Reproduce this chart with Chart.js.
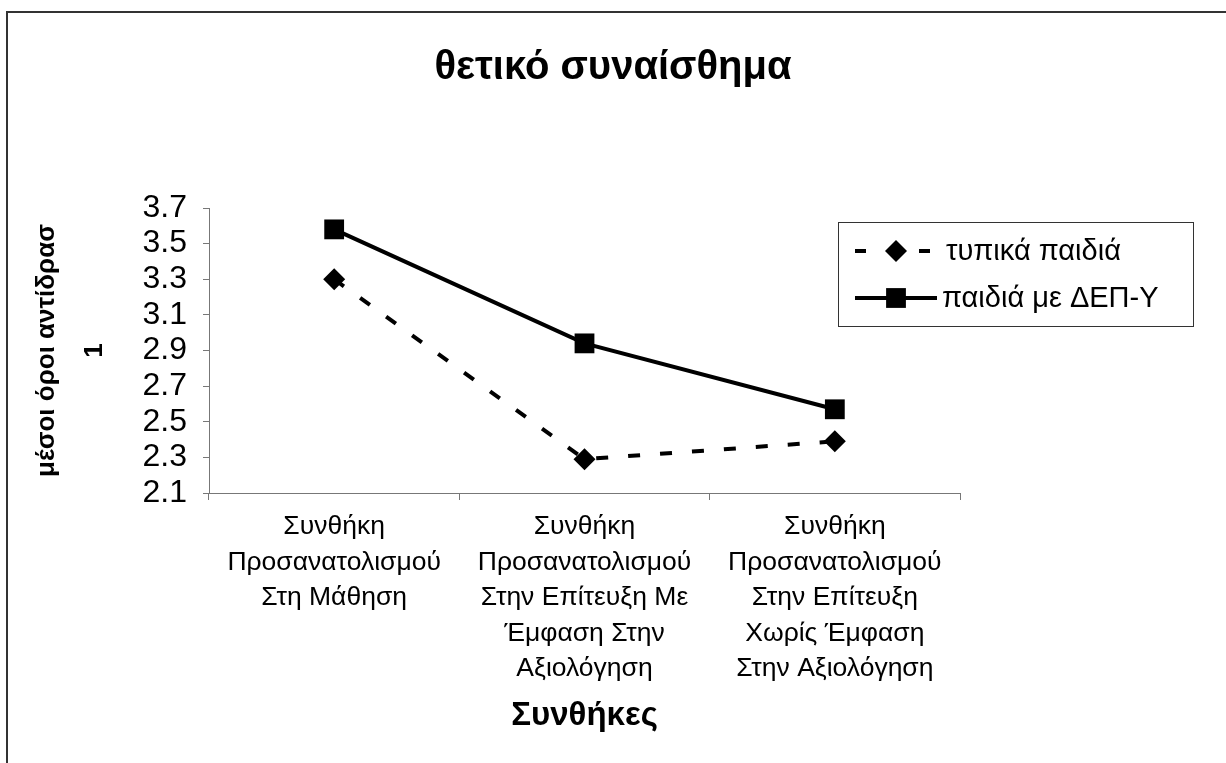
<!DOCTYPE html>
<html>
<head>
<meta charset="utf-8">
<script src="https://cdn.jsdelivr.net/npm/chart.js@4.4.0/dist/chart.umd.min.js"></script>
<style>
  body { margin: 0; background: #fff; }
  #wrap { width: 1226px; height: 763px; }
</style>
</head>
<body>
<div id="wrap"><canvas id="myChart" width="1226" height="763"></canvas></div>
<script>
const chartTitle = "θετικό συναίσθημα";
const yTitle = ["μέσοι όροι αντίδρασ", "1"];
const xTitle = "Συνθήκες";
const conditions = [
  ["Συνθήκη", "Προσανατολισμού", "Στη Μάθηση"],
  ["Συνθήκη", "Προσανατολισμού", "Στην Επίτευξη Με", "Έμφαση Στην", "Αξιολόγηση"],
  ["Συνθήκη", "Προσανατολισμού", "Στην Επίτευξη", "Χωρίς Έμφαση", "Στην Αξιολόγηση"]
];
const seriesNames = ["τυπικά παιδιά", "παιδιά με ΔΕΠ-Υ"];
const typicalValues = [3.30, 2.29, 2.39];
const adhdValues = [3.58, 2.94, 2.57];
const yMin = 2.1;
const yMax = 3.7;
const yStep = 0.2;

const FONT = "'Liberation Sans', Arial, sans-serif";

// outer frame (only top and left edges are visible in the picture)
const framePlugin = {
  id: "frame",
  beforeDraw(chart) {
    const ctx = chart.ctx;
    ctx.save();
    ctx.fillStyle = "#fff";
    ctx.fillRect(0, 0, chart.width, chart.height);
    ctx.strokeStyle = "#333";
    ctx.lineWidth = 2;
    ctx.beginPath();
    ctx.moveTo(7, chart.height);
    ctx.lineTo(7, 12);
    ctx.lineTo(chart.width, 12);
    ctx.stroke();
    ctx.restore();
  }
};

// legend box drawn over the right part of the plot
const boxLegend = {
  id: "boxLegend",
  afterDraw(chart) {
    const ctx = chart.ctx;
    const x = 838, y = 222, w = 355, h = 104;
    ctx.save();
    ctx.fillStyle = "#fff";
    ctx.fillRect(x, y, w, h);
    ctx.strokeStyle = "#333";
    ctx.lineWidth = 1;
    ctx.strokeRect(x + 0.5, y + 0.5, w, h);
    chart.data.datasets.forEach((ds, i) => {
      const cy = y + 29 + i * 47;
      const cx = 896;
      ctx.strokeStyle = ds.borderColor;
      ctx.lineWidth = ds.borderWidth;
      ctx.setLineDash([]);
      ctx.beginPath();
      if (ds.borderDash && ds.borderDash.length) {
        ctx.moveTo(855, cy); ctx.lineTo(866, cy);
        ctx.moveTo(919, cy); ctx.lineTo(930, cy);
      } else {
        ctx.moveTo(855, cy); ctx.lineTo(937, cy);
      }
      ctx.stroke();
      ctx.fillStyle = ds.pointBackgroundColor;
      ctx.beginPath();
      const r = ds.pointRadius;
      if (ds.pointStyle === "rectRot") {
        ctx.moveTo(cx, cy - r); ctx.lineTo(cx + r, cy);
        ctx.lineTo(cx, cy + r); ctx.lineTo(cx - r, cy);
        ctx.closePath();
      } else {
        const s = r * Math.SQRT1_2;
        ctx.rect(cx - s, cy - s, 2 * s, 2 * s);
      }
      ctx.fill();
      ctx.fillStyle = "#000";
      ctx.font = "29px " + FONT;
      ctx.textBaseline = "middle";
      ctx.textAlign = "left";
      ctx.fillText(ds.label, i === 0 ? 946 : 942, cy + 1);
    });
    ctx.restore();
  }
};

const ctx = document.getElementById("myChart");
new Chart(ctx, {
  type: "line",
  data: {
    labels: conditions,
    datasets: [
      {
        label: seriesNames[0],
        data: typicalValues,
        borderColor: "#000",
        borderWidth: 4,
        borderDash: [12, 20],
        pointStyle: "rectRot",
        pointRadius: 11,
        pointBackgroundColor: "#000",
        pointBorderColor: "#000",
        pointBorderWidth: 0,
        tension: 0,
        fill: false
      },
      {
        label: seriesNames[1],
        data: adhdValues,
        borderColor: "#000",
        borderWidth: 4,
        pointStyle: "rect",
        pointRadius: 14,
        pointBackgroundColor: "#000",
        pointBorderColor: "#000",
        pointBorderWidth: 0,
        tension: 0,
        fill: false
      }
    ]
  },
  options: {
    responsive: false,
    animation: false,
    layout: { padding: 0 },
    plugins: {
      legend: { display: false },
      tooltip: { enabled: false },
      title: {
        display: true,
        text: chartTitle,
        color: "#000",
        font: { family: FONT, size: 40, weight: "bold", lineHeight: 1.2 },
        padding: { top: 44, bottom: 116 }
      }
    },
    scales: {
      x: {
        type: "category",
        offset: true,
        afterFit(scale) { scale.height = 270; },
        border: { color: "#777", width: 1 },
        grid: { offset: true, drawOnChartArea: false, color: "#777", tickLength: 7 },
        ticks: {
          color: "#000",
          font: { family: FONT, size: 26.5, lineHeight: 1.34 },
          padding: 9,
          maxRotation: 0,
          minRotation: 0,
          autoSkip: false
        },
        title: {
          display: true,
          text: xTitle,
          color: "#000",
          font: { family: FONT, size: 33, weight: "bold", lineHeight: 1.2 },
          padding: { top: 0, bottom: 27 }
        }
      },
      y: {
        min: yMin,
        max: yMax,
        afterFit(scale) { scale.width = 209; },
        border: { color: "#777", width: 1 },
        grid: { drawOnChartArea: false, color: "#777", tickLength: 6 },
        ticks: {
          stepSize: yStep,
          autoSkip: false,
          color: "#000",
          font: { family: FONT, size: 32 },
          padding: 16,
          callback: (v) => Number(v).toFixed(1)
        },
        title: {
          display: true,
          text: yTitle,
          color: "#000",
          font: { family: FONT, size: 26, weight: "bold", lineHeight: 1.85 },
          padding: { top: 23, bottom: 0 }
        }
      },
      // empty right-hand axis that only reserves the space the legend box sits in
      spacer: {
        type: "linear",
        position: "right",
        afterFit(scale) { scale.width = 266; },
        border: { display: false },
        grid: { display: false },
        ticks: { display: false }
      }
    }
  },
  plugins: [framePlugin, boxLegend]
});
</script>
</body>
</html>
